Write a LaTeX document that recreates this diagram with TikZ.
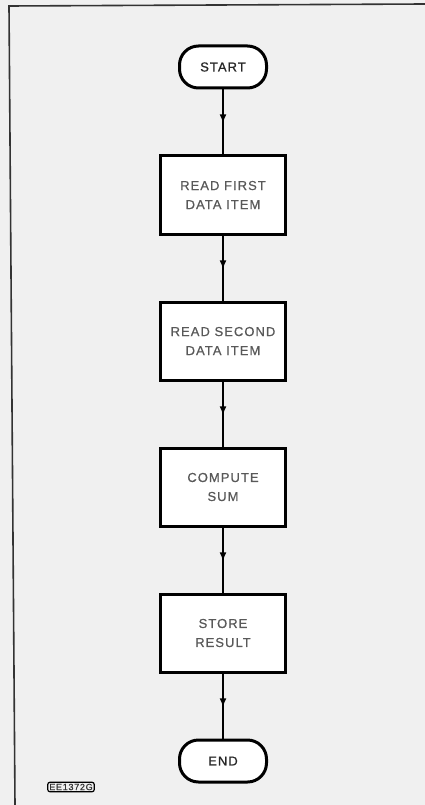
\documentclass[tikz,border=0pt]{standalone}
\usepackage{fontspec}
\newfontfamily\flowfont[LetterSpace=8, FakeBold=0.6]{Liberation Sans}
\usetikzlibrary{arrows.meta, positioning, decorations.markings}

\begin{document}
\begin{tikzpicture}[
    x=1pt, y=-1pt,
    node distance=65pt,
    terminal/.style={draw, line width=3pt, rounded corners=19pt, fill=white, minimum width=87pt, minimum height=42pt, font=\flowfont\fontsize{13}{16}\selectfont, text=black!85},
    process/.style={draw, line width=3pt, fill=white, minimum width=125pt, minimum height=78pt, align=center, font=\flowfont\fontsize{13}{19}\selectfont, text=black!65},
    flow/.style={line width=2.8pt, decoration={markings, mark=at position 0.52 with {\arrow{Latex[length=9pt,width=7pt]}}}, postaction={decorate}}
]
\useasboundingbox (0,0) rectangle (425,805);
\fill[black!6] (0,0) rectangle (425,805);
\draw[line width=1.6pt, black!80] (425,4) -- (9,6) -- (15,805);

\node[terminal] (start) at (223,67) {START};
\node[process, below=of start] (read1) {READ FIRST\\DATA ITEM};
\node[process, below=of read1] (read2) {READ SECOND\\DATA ITEM};
\node[process, below=of read2] (sum) {COMPUTE\\SUM};
\node[process, below=of sum] (store) {STORE\\RESULT};
\node[terminal, below=of store] (stop) {END};

\draw[flow] (start) -- (read1);
\draw[flow] (read1) -- (read2);
\draw[flow] (read2) -- (sum);
\draw[flow] (sum) -- (store);
\draw[flow] (store) -- (stop);

% drawing number
\node[draw, line width=1.2pt, rounded corners=2pt, inner sep=1.5pt, font=\flowfont\fontsize{9}{10}\selectfont, text=black!80] (ref) at (71,787) {EE1372G};
\end{tikzpicture}
\end{document}
